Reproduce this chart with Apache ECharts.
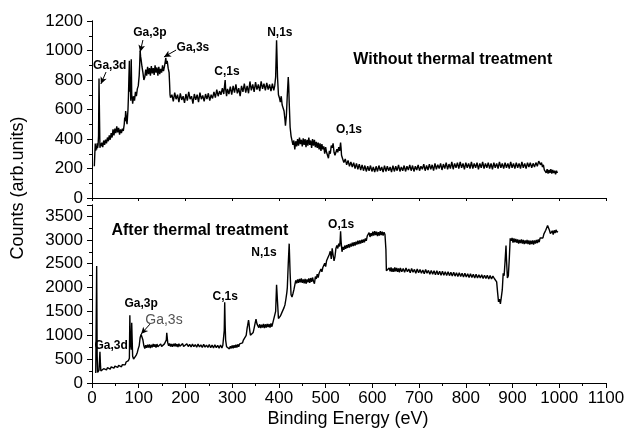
<!DOCTYPE html>
<html>
<head>
<meta charset="utf-8">
<script src="https://cdn.jsdelivr.net/npm/echarts@6/dist/echarts.min.js"></script>
<style>html,body{margin:0;padding:0;background:#fff}#c{width:628px;height:431px}</style>
</head>
<body>
<div id="c"></div>
<script>
// Top panel: Without thermal treatment  [binding energy (eV), counts]
const topSpectrum = [
[5,215],[6,300],[7,370],[8,320],[9,350],[10,330],[11,370],[12,340],[13,360],[14,420],[15,810],[16,560],[17,340],[18,370],[19,350],[21,375],[23,345],[25,390],[27,360],[29,395],[31,370],[33,410],[35,385],[37,425],[39,395],[41,440],[43,410],[45,465],[47,425],[49,470],[51,440],[53,485],[55,445],[57,475],[59,430],[61,465],[63,440],[65,470],[67,455],[69,500],[70,545],[71,520],[72,590],[73,560],[74,520],[75,500],[76,495],[77,600],[78,690],[79,820],[80,930],[81,720],[82,780],[83,660],[84,940],[85,700],[86,680],[87,640],[89,690],[91,660],[93,720],[95,690],[97,740],[99,760],[101,830],[102,900],[103,1000],[104,960],[105,940],[107,890],[109,850],[111,800],[113,820],[115,870],[117,830],[119,890],[121,840],[123,880],[125,830],[127,895],[129,845],[131,880],[133,835],[135,900],[137,850],[139,885],[141,830],[143,890],[145,840],[147,875],[149,850],[151,900],[153,860],[155,890],[157,930],[158,950],[159,910],[161,930],[163,880],[165,850],[166,780],[167,700],[168,680],
[171,700],[174,655],[177,715],[180,670],[183,700],[186,650],[189,710],[192,665],[195,690],[198,645],[201,705],[204,660],[207,720],[210,670],[213,690],[216,640],[219,705],[222,665],[225,700],[228,650],[231,715],[234,670],[237,695],[240,655],[243,705],[246,670],[249,710],[252,660],[255,700],[258,675],[261,720],[264,680],[267,735],[270,690],[273,725],[276,700],[279,745],[282,705],[284,770],[285,800],[286,740],[288,690],[290,740],
[293,705],[296,755],[299,700],[302,760],[305,715],[308,770],[311,710],[314,745],[317,690],[320,760],[323,720],[326,775],[329,715],[332,760],[335,710],[338,790],[341,730],[344,770],[347,720],[350,785],[353,735],[356,770],[359,725],[362,790],[365,740],[368,775],[371,730],[374,780],[377,735],[380,770],[383,725],[386,775],[389,730],[391,760],[393,820],[395,1070],[396,950],[397,820],[399,700],[401,680],[403,650],[405,690],[407,630],[409,640],[411,590],[413,530],[414,490],[416,560],[418,700],[420,820],[421,760],[422,650],[424,480],[426,420],
[428,410],[430,360],[432,390],[434,330],[436,385],[438,350],[440,400],[442,355],[444,410],[446,365],[448,395],[450,350],[452,405],[454,360],[456,400],[458,345],[460,395],[462,355],[464,410],[466,360],[468,390],[470,340],[472,400],[474,355],[476,395],[478,345],[480,380],[482,340],[484,375],[486,330],[488,370],[490,320],[492,365],[494,330],[496,350],[498,300],[500,345],[502,310],[504,290],[506,270],[508,320],[510,300],[512,355],[514,340],[516,370],[518,310],[520,290],[522,280],[524,330],[526,310],[528,345],[530,320],[532,375],[533,340],[534,290],[536,270],
[539,240],[542,265],[545,225],[548,255],[551,215],[554,245],[557,210],[560,240],[563,200],[566,235],[569,195],[572,230],[575,190],[578,225],[581,185],[584,220],[587,180],[590,215],[593,185],[596,220],[599,180],[602,210],[605,175],[608,215],[611,180],[614,220],[617,185],[620,210],[623,175],[626,220],[629,180],[632,215],[635,185],[638,210],[641,175],[644,220],[647,180],[650,215],[653,185],[656,225],[659,180],[662,210],[665,185],[668,220],[671,180],[674,215],[677,190],[680,225],[683,185],[686,220],[689,180],[692,215],[695,190],[698,225],[701,185],[704,215],[707,195],[710,230],[713,185],[716,220],[719,190],[722,230],[725,195],[728,225],[731,185],[734,235],[737,195],[740,225],[743,200],[746,235],[749,190],[752,230],[755,200],[758,240],[761,195],[764,230],[767,200],[770,245],[773,195],[776,235],[779,205],[782,240],[785,200],[788,245],[791,205],[794,235],[797,195],[800,240],[803,205],[806,235],[809,200],[812,245],[815,200],[818,235],[821,205],[824,240],[827,195],[830,235],[833,205],[836,245],[839,200],[842,235],[845,205],[848,240],[851,200],[854,235],[857,195],[860,240],[863,205],[866,235],[869,200],[872,245],[875,205],[878,235],[881,200],[884,240],[887,205],[890,235],[893,200],[896,245],[899,205],[902,235],[905,200],[908,240],[911,205],[914,235],[917,200],[920,245],[923,205],[926,235],[929,200],[932,240],[935,210],[938,240],[941,205],[944,235],[947,210],[950,240],[953,215],[956,250],[958,255],[960,225],[962,240],[964,210],[966,225],[968,190],[970,200],[972,170],[974,195],[976,165],[978,190],[980,170],[982,195],[984,165],[986,190],[988,170],[990,185],[992,160],[994,185],[996,170]
];
// Bottom panel: After thermal treatment  [binding energy (eV), counts]
const bottomSpectrum = [
[8,210],[9,230],[10,2450],[11,600],[12,220],[13,260],[14,230],[15,270],[16,250],[17,655],[18,400],[19,250],[21,290],[23,255],[25,300],[27,265],[29,310],[31,275],[33,320],[35,285],[37,330],[39,290],[41,340],[43,300],[45,350],[47,310],[49,355],[51,320],[53,365],[55,325],[57,370],[59,335],[61,375],[63,340],[65,385],[67,350],[69,395],[71,380],[73,440],[74,450],[75,410],[76,420],[77,450],[78,470],[79,480],[80,520],[81,1420],[82,900],[83,800],[84,700],[85,1260],[86,900],[87,560],[88,520],[89,500],[91,540],[93,520],[95,590],[97,640],[99,720],[101,780],[103,950],[105,1020],[107,1050],[109,900],[111,780],[113,720],[115,790],[117,740],[119,800],[121,745],[123,810],[125,730],[127,800],[129,750],[131,820],[133,760],[135,810],[137,745],[139,815],[141,760],[143,800],[145,750],[147,820],[149,765],[151,805],[153,750],[155,820],[157,780],[159,900],[160,1050],[161,950],[162,850],[164,780],[166,830],[168,765],[170,815],[172,760],[174,820],[176,770],[178,830],[180,765],[182,815],[184,755],[186,825],[188,770],[190,810],[192,760],[194,825],[196,765],[198,805],[200,750],[203,820],[206,765],[209,810],[212,755],[215,815],[218,760],[221,805],[224,750],[227,815],[230,755],[233,800],[236,745],[239,810],[242,750],[245,795],[248,745],[251,805],[254,740],[257,795],[260,735],[263,800],[266,740],[269,790],[272,730],[275,795],[278,735],[280,790],[282,790],[283,1100],[284,1690],[285,1200],[286,900],[288,760],[290,720],[292,780],[294,715],[296,770],[298,725],[300,785],[302,730],[304,790],[306,740],[308,800],[310,745],[312,810],[314,760],[316,820],[318,790],[320,860],[322,840],[324,900],[326,880],[328,930],[330,1000],[332,1150],[333,1200],[335,1320],[336,1250],[337,1150],[339,1000],[341,960],[343,1000],[345,1060],[347,1150],[349,1250],[351,1340],[353,1240],[355,1220],[357,1160],[359,1230],[361,1150],[363,1220],[365,1160],[367,1240],[369,1150],[371,1230],[373,1160],[375,1240],[377,1170],[379,1235],[381,1160],[383,1250],[385,1180],[387,1260],[389,1220],[391,1300],[393,1500],[395,2060],[397,1700],[399,1350],[401,1330],[403,1400],[405,1430],[407,1490],[409,1530],[411,1580],[413,1640],[415,1760],[417,1900],[418,2000],[420,2500],[422,2920],[423,2600],[424,2300],[426,1850],[428,1800],[430,1870],[432,1950],[434,2050],[436,2150],[438,2090],[440,2170],[442,2100],[444,2180],[446,2110],[448,2190],[450,2100],[452,2170],[454,2090],[456,2180],[458,2080],[460,2170],[462,2110],[464,2190],[466,2100],[468,2200],[470,2120],[472,2210],[474,2130],[476,2080],[478,2230],[480,2180],[482,2280],[484,2210],[486,2300],[488,2260],[490,2390],[492,2330],[494,2420],[496,2380],[498,2510],[500,2440],[502,2560],[504,2600],[506,2520],[508,2700],[510,2760],[512,2600],[514,2820],[516,2680],[518,2560],[520,2650],[522,2820],[524,2880],[526,2820],[528,2920],[530,2860],[531,2980],[532,3180],[533,2980],[535,2750],[537,2850],[539,2790],[541,2880],[543,2810],[545,2890],[547,2830],[549,2910],[551,2840],[553,2920],[555,2860],[557,2940],[559,2870],[561,2950],[563,2880],[565,2960],[567,2900],[569,2980],[571,2910],[573,2990],[575,2920],[577,3000],[579,2940],[581,3010],[583,2950],[585,3030],[587,2980],[589,3080],[591,3050],[593,3150],[595,3060],[597,3140],[599,3080],[601,3170],[603,3090],[605,3180],[607,3100],[609,3170],[611,3080],[613,3160],[615,3090],[617,3180],[619,3100],[621,3170],[623,3090],[625,3160],[627,3110],[628,3100],[629,2800],[630,2350],[632,2390],[634,2320],[636,2410],[638,2340],[640,2420],[642,2330],[644,2400],[646,2330],[648,2420],[650,2340],[652,2410],[654,2330],[656,2400],[658,2320],[660,2410],[663,2330],[666,2400],[669,2320],[672,2410],[675,2330],[678,2390],[681,2310],[684,2400],[687,2320],[690,2380],[693,2300],[696,2390],[699,2310],[702,2380],[705,2300],[708,2370],[711,2290],[714,2380],[717,2300],[720,2360],[723,2280],[726,2360],[729,2280],[732,2350],[735,2270],[738,2350],[741,2270],[744,2340],[747,2260],[750,2340],[753,2260],[756,2330],[759,2250],[762,2330],[765,2250],[768,2320],[771,2240],[774,2320],[777,2240],[780,2310],[783,2230],[786,2310],[789,2230],[792,2300],[795,2220],[798,2300],[801,2220],[804,2290],[807,2210],[810,2290],[813,2210],[816,2280],[819,2200],[822,2280],[825,2200],[828,2270],[831,2200],[834,2270],[837,2190],[840,2260],[843,2190],[846,2260],[849,2180],[852,2250],[855,2180],[858,2240],[861,2190],[864,2170],[866,2120],[868,1900],[870,1700],[872,1760],[874,1660],[876,1800],[878,1950],[880,2300],[882,2250],[884,2550],[886,2880],[887,2600],[889,2200],[891,2250],[893,2600],[895,3030],[897,2980],[899,3040],[901,2940],[903,3030],[905,2950],[907,3020],[909,2940],[911,3010],[913,2920],[915,3000],[917,2930],[919,3010],[921,2920],[923,3000],[925,2910],[927,2990],[929,2920],[931,3000],[933,2910],[935,2990],[937,2900],[939,2980],[941,2910],[943,2990],[945,2900],[947,2990],[949,2920],[951,3000],[953,2930],[955,3010],[957,2950],[959,3040],[961,3000],[963,3080],[965,3040],[967,3120],[969,3150],[971,3200],[973,3230],[975,3300],[977,3260],[979,3200],[981,3130],[983,3090],[985,3190],[987,3110],[989,3200],[991,3140],[993,3210],[995,3160],[997,3180]
];
// Axis settings
const xTicks = {min: 0, max: 1100, interval: 100};
const topY = {min: 0, max: 1200, interval: 200};
const bottomY = {min: 0, max: 3730, interval: 500};
// Annotation labels: [text, x, y, style]
const topLabels = [
  ['Ga,3d', 38, 895, 'b'], ['Ga,3p', 124, 1119, 'b'], ['Ga,3s', 216, 1017, 'b'],
  ['C,1s', 289, 854, 'b'], ['N,1s', 402, 1119, 'b'], ['O,1s', 550, 461, 'b'],
  ['Without thermal treatment', 772, 936, 'title']
];
const bottomLabels = [
  ['After thermal treatment', 231, 3200, 'title'], ['N,1s', 368, 2740, 'b'],
  ['O,1s', 533, 3326, 'b'], ['C,1s', 285, 1800, 'b'], ['Ga,3p', 105, 1653, 'b'],
  ['Ga,3s', 154, 1318, 'g'], ['Ga,3d', 41, 774, 'b']
];
const topArrows = [[[30, 854], [19, 773]], [[109, 1071], [103, 990]], [[180, 1003], [154, 956]]];
const bottomArrows = [[[124, 1234], [105, 1025]]];

const FONT = '"Liberation Sans", Arial, sans-serif';
const chart = echarts.init(document.getElementById('c'), null, {renderer: 'canvas'});
const axLine = {show: true, lineStyle: {color: '#000', width: 1}};
const plain = v => String(v);
const xLbl = {color: '#000', fontSize: 17, fontFamily: FONT, margin: 7, formatter: plain};
const yLbl = {color: '#000', fontSize: 17, fontFamily: FONT, margin: 9, formatter: plain};
const tick = {show: true, length: 5, lineStyle: {color: '#000'}};
const minor = {show: true, splitNumber: 2, length: 3, lineStyle: {color: '#000'}};
const innerTick = {show: true, inside: true, length: 3, lineStyle: {color: '#000'}};
const off = {show: false};
function arrowML(list) {
  return {
    silent: true, symbol: ['none', 'arrow'], symbolSize: [5, 7],
    lineStyle: {color: '#000', width: 1, type: 'solid'}, label: {show: false},
    data: list.map(a => [{coord: a[0]}, {coord: a[1]}])
  };
}
const option = {
  animation: false,
  backgroundColor: '#fff',
  grid: [
    {left: 92, right: 22, top: 21, height: 177},
    {left: 92, right: 22, top: 205, height: 178}
  ],
  xAxis: [
    {gridIndex: 0, type: 'value', position: 'bottom', ...xTicks, axisLine: off, axisTick: off, axisLabel: off, splitLine: off},
    {gridIndex: 0, type: 'value', position: 'top', ...xTicks, axisLine: axLine, axisTick: innerTick, axisLabel: off, splitLine: off},
    {gridIndex: 1, type: 'value', position: 'bottom', ...xTicks, axisLine: axLine, axisTick: tick, minorTick: minor, axisLabel: xLbl, splitLine: off},
    {gridIndex: 1, type: 'value', position: 'top', ...xTicks, axisLine: off, axisTick: off, axisLabel: off, splitLine: off}
  ],
  yAxis: [
    {gridIndex: 0, type: 'value', position: 'left', ...topY, axisLine: axLine, axisTick: tick, minorTick: minor, axisLabel: yLbl, splitLine: off},
    {gridIndex: 0, type: 'value', position: 'right', ...topY, axisLine: axLine, axisTick: innerTick, minorTick: {...minor, length: 2}, axisLabel: off, splitLine: off},
    {gridIndex: 1, type: 'value', position: 'left', ...bottomY, axisLine: axLine, axisTick: tick, minorTick: minor, axisLabel: {...yLbl, showMaxLabel: false}, splitLine: off},
    {gridIndex: 1, type: 'value', position: 'right', ...bottomY, axisLine: axLine, axisTick: innerTick, minorTick: {...minor, length: 2}, axisLabel: off, splitLine: off}
  ],
  series: [
    {type: 'line', xAxisIndex: 0, yAxisIndex: 0, data: topSpectrum, showSymbol: false, symbol: 'none', lineStyle: {color: '#000', width: 1.4}, markLine: arrowML(topArrows)},
    {type: 'line', xAxisIndex: 2, yAxisIndex: 2, data: bottomSpectrum, showSymbol: false, symbol: 'none', lineStyle: {color: '#000', width: 1.4}, markLine: arrowML(bottomArrows)}
  ]
};
chart.setOption(option);

function textEl(t, p, style) {
  const isTitle = style === 'title';
  const isGray = style === 'g';
  return {
    type: 'text', x: p[0], y: p[1], silent: true,
    style: {
      text: t, align: 'center', verticalAlign: 'middle',
      font: (isGray ? 'normal ' : 'bold ') + (isTitle ? 16 : (isGray ? 14 : 12)) + 'px ' + FONT,
      fill: isGray ? '#555' : '#000'
    }
  };
}
const els = [];
topLabels.forEach(l => els.push(textEl(l[0], chart.convertToPixel({xAxisIndex: 0, yAxisIndex: 0}, [l[1], l[2]]), l[3])));
bottomLabels.forEach(l => els.push(textEl(l[0], chart.convertToPixel({xAxisIndex: 2, yAxisIndex: 2}, [l[1], l[2]]), l[3])));
els.push({type: 'text', x: 18, y: 188, rotation: Math.PI / 2, silent: true,
  style: {text: 'Counts (arb.units)', align: 'center', verticalAlign: 'middle', font: '18px ' + FONT, fill: '#000'}});
els.push({type: 'text', x: 348, y: 419, silent: true,
  style: {text: 'Binding Energy (eV)', align: 'center', verticalAlign: 'middle', font: '18px ' + FONT, fill: '#000'}});
chart.setOption({graphic: els});
</script>
</body>
</html>
